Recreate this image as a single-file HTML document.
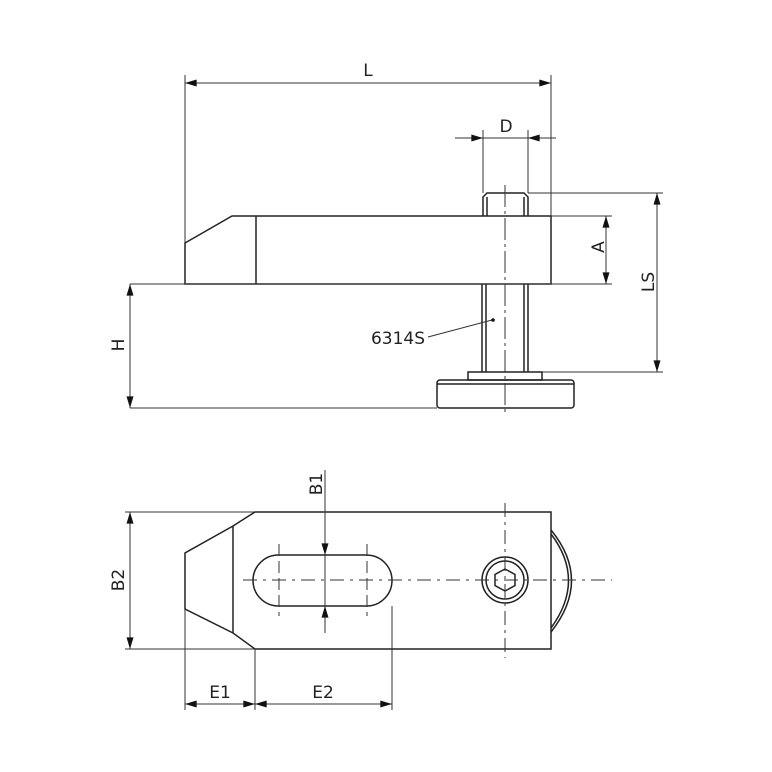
<!DOCTYPE html><html><head><style>body{margin:0;background:#fff}svg{display:block}text{font-family:"DejaVu Sans","Liberation Sans",sans-serif;font-size:17px;fill:#222}</style></head><body>
<svg width="772" height="772" viewBox="0 0 772 772" xmlns="http://www.w3.org/2000/svg">
<defs><marker id="a" viewBox="0 0 10 6" refX="10" refY="3" markerWidth="15" markerHeight="7" markerUnits="userSpaceOnUse" orient="auto-start-reverse"><path d="M0,0L10,3L0,6z" fill="#111"/></marker></defs>
<g stroke="#333" stroke-width="1" fill="none">
<line x1="185" y1="75" x2="185" y2="243"/><line x1="551" y1="75" x2="551" y2="216"/>
<line x1="185" y1="83" x2="551" y2="83" marker-start="url(#a)" marker-end="url(#a)"/>
<line x1="483" y1="130" x2="483" y2="193"/><line x1="528" y1="130" x2="528" y2="193"/>
<line x1="455" y1="138" x2="483" y2="138" marker-end="url(#a)"/><line x1="556" y1="138" x2="528" y2="138" marker-end="url(#a)"/><line x1="483" y1="138" x2="528" y2="138"/>
<g stroke-width="1.5" stroke="#222"><path d="M185,284V243L232,216H551V284Z"/><line x1="256" y1="216" x2="256" y2="284"/>
<path d="M483,216V197L487,193H524L528,197V216"/><line x1="487" y1="197" x2="487" y2="216"/><line x1="524" y1="197" x2="524" y2="216"/>
<path d="M482,284V372M528,284V372M486,284V372M524,284V372"/>
<rect x="468" y="372" width="74" height="8"/><rect x="437" y="380" width="137" height="28" rx="3"/><line x1="437" y1="384" x2="574" y2="384"/></g>
<line x1="505" y1="185" x2="505" y2="412" stroke-dasharray="22,4,3,4"/>
<line x1="130" y1="284" x2="612" y2="284"/><line x1="130" y1="408" x2="437" y2="408"/>
<line x1="551" y1="216" x2="612" y2="216"/>
<line x1="606" y1="216" x2="606" y2="284" marker-start="url(#a)" marker-end="url(#a)"/>
<line x1="528" y1="193" x2="663" y2="193"/><line x1="542" y1="372" x2="663" y2="372"/>
<line x1="657" y1="193" x2="657" y2="372" marker-start="url(#a)" marker-end="url(#a)"/>
<line x1="130" y1="284" x2="130" y2="408" marker-start="url(#a)" marker-end="url(#a)"/>
<line x1="428" y1="337" x2="492" y2="320"/>
<line x1="125" y1="512" x2="255" y2="512"/><line x1="125" y1="649" x2="255" y2="649"/>
<line x1="130" y1="512" x2="130" y2="649" marker-start="url(#a)" marker-end="url(#a)"/>
<g stroke-width="1.5" stroke="#222"><path d="M255,512H551V649H255L233,633L185,609V553L233,526Z"/><line x1="233" y1="526" x2="233" y2="633"/>
<rect x="253" y="555" width="139" height="51" rx="25.5"/>
<circle cx="505" cy="580" r="23"/><circle cx="505" cy="580" r="19"/>
<path d="M505,569L515,574.5V585.5L505,591L495,585.5V574.5Z"/>
<path d="M551,530Q592,580 551,632M551,534Q586,580 551,628"/></g>
<line x1="243" y1="580" x2="612" y2="580" stroke-dasharray="14,6,3,6"/>
<line x1="505" y1="503" x2="505" y2="658" stroke-dasharray="14,5,3,5"/>
<path d="M279,544V616M367,544V616" stroke-dasharray="12,5"/>
<line x1="325" y1="470" x2="325" y2="555" marker-end="url(#a)"/><line x1="325" y1="633" x2="325" y2="606" marker-end="url(#a)"/><line x1="325" y1="555" x2="325" y2="606"/>
<line x1="185" y1="609" x2="185" y2="710"/><line x1="255" y1="649" x2="255" y2="710"/><line x1="392" y1="606" x2="392" y2="710"/>
<line x1="185" y1="704" x2="255" y2="704" marker-start="url(#a)" marker-end="url(#a)"/>
<line x1="255" y1="704" x2="392" y2="704" marker-start="url(#a)" marker-end="url(#a)"/>
</g>
<circle cx="493" cy="320" r="1.8" fill="#111"/>
<text x="368" y="76" text-anchor="middle">L</text>
<text x="506" y="132" text-anchor="middle">D</text>
<text x="398" y="344" text-anchor="middle">6314S</text>
<text transform="translate(604,247) rotate(-90)" text-anchor="middle">A</text>
<text transform="translate(654,282) rotate(-90)" text-anchor="middle">LS</text>
<text transform="translate(124,345) rotate(-90)" text-anchor="middle">H</text>
<text transform="translate(322,484) rotate(-90)" text-anchor="middle">B1</text>
<text transform="translate(124,580) rotate(-90)" text-anchor="middle">B2</text>
<text x="220" y="698" text-anchor="middle">E1</text>
<text x="323" y="698" text-anchor="middle">E2</text>
</svg></body></html>
